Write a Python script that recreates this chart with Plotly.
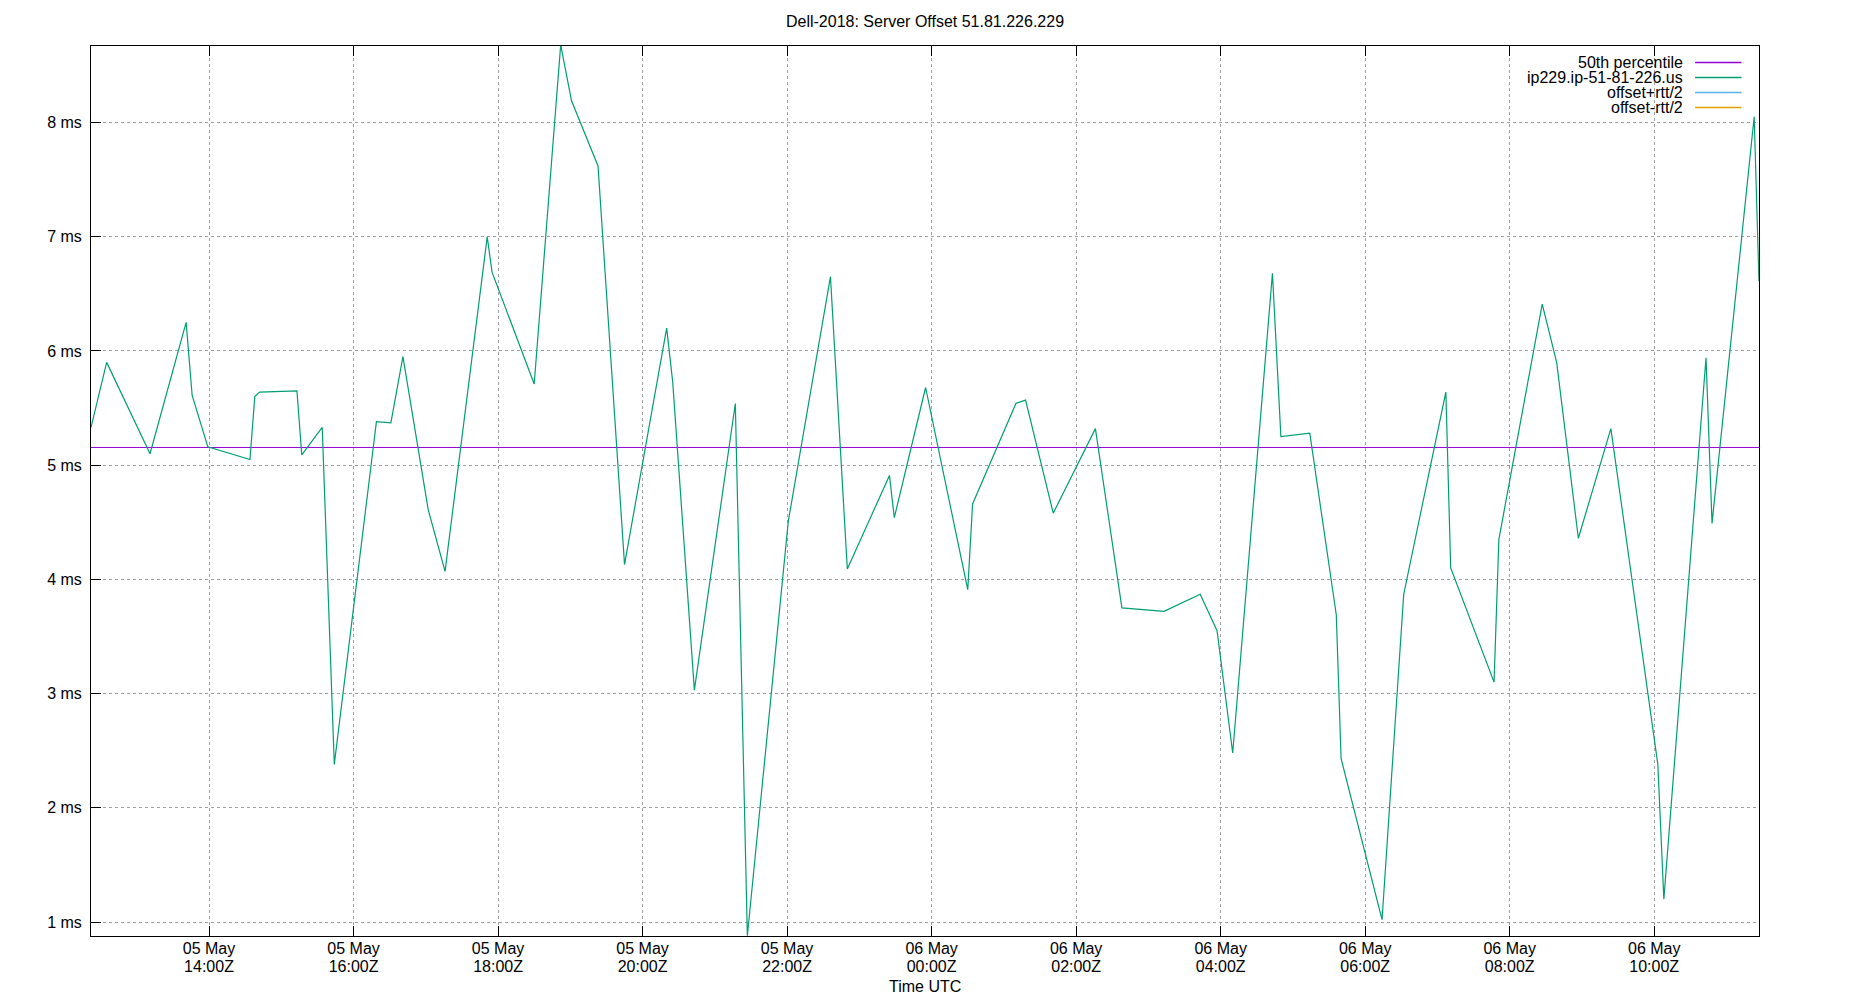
import plotly.graph_objects as go

# ---- data ----
times = [
    "2023-05-05 12:22", "2023-05-05 12:35", "2023-05-05 13:11", "2023-05-05 13:41",
    "2023-05-05 13:46", "2023-05-05 13:59", "2023-05-05 14:34", "2023-05-05 14:38",
    "2023-05-05 14:42", "2023-05-05 15:13", "2023-05-05 15:17", "2023-05-05 15:34",
    "2023-05-05 15:44", "2023-05-05 16:19", "2023-05-05 16:31", "2023-05-05 16:41",
    "2023-05-05 17:02", "2023-05-05 17:16", "2023-05-05 17:51", "2023-05-05 17:55",
    "2023-05-05 18:30", "2023-05-05 18:52", "2023-05-05 19:01", "2023-05-05 19:23",
    "2023-05-05 19:45", "2023-05-05 20:20", "2023-05-05 20:25", "2023-05-05 20:43",
    "2023-05-05 21:17", "2023-05-05 21:27", "2023-05-05 22:01", "2023-05-05 22:36",
    "2023-05-05 22:50", "2023-05-05 23:25", "2023-05-05 23:29", "2023-05-05 23:55",
    "2023-05-06 00:30", "2023-05-06 00:34", "2023-05-06 01:10", "2023-05-06 01:18",
    "2023-05-06 01:41", "2023-05-06 02:16", "2023-05-06 02:38", "2023-05-06 03:13",
    "2023-05-06 03:43", "2023-05-06 03:57", "2023-05-06 04:10", "2023-05-06 04:43",
    "2023-05-06 04:50", "2023-05-06 05:14", "2023-05-06 05:36", "2023-05-06 05:40",
    "2023-05-06 06:14", "2023-05-06 06:32", "2023-05-06 07:07", "2023-05-06 07:11",
    "2023-05-06 07:47", "2023-05-06 07:51", "2023-05-06 08:27", "2023-05-06 08:39",
    "2023-05-06 08:57", "2023-05-06 09:24", "2023-05-06 10:03", "2023-05-06 10:08",
    "2023-05-06 10:43", "2023-05-06 10:48", "2023-05-06 11:23", "2023-05-06 11:27",
]
offset_ms = [
    5.33, 5.90, 5.10, 6.25,
    5.61, 5.16, 5.05, 5.60,
    5.64, 5.65, 5.09, 5.33,
    2.38, 5.38, 5.37, 5.95,
    4.61, 4.07, 7.00, 6.69,
    5.71, 8.68, 8.19, 7.62,
    4.13, 6.20, 5.73, 3.03,
    5.54, 0.88, 4.51, 6.65,
    4.09, 4.91, 4.54, 5.68,
    3.91, 4.66, 5.54, 5.57,
    4.58, 5.32, 3.75, 3.72,
    3.87, 3.55, 2.48, 6.68,
    5.25, 5.28, 3.69, 2.43,
    1.02, 3.87, 5.64, 4.10,
    3.10, 4.35, 6.41, 5.90,
    4.36, 5.32, 2.38, 1.20,
    5.94, 4.49, 8.05, 6.61,
]
median_ms = 5.155

series_names = ["50th percentile", "ip229.ip-51-81-226.us", "offset+rtt/2", "offset-rtt/2"]
series_colors = ["#9400d3", "#009e73", "#56b4e9", "#e69f00"]

xtick_vals = [
    "2023-05-05 14:00", "2023-05-05 16:00", "2023-05-05 18:00", "2023-05-05 20:00",
    "2023-05-05 22:00", "2023-05-06 00:00", "2023-05-06 02:00", "2023-05-06 04:00",
    "2023-05-06 06:00", "2023-05-06 08:00", "2023-05-06 10:00",
]
xtick_dates = ["05 May"] * 5 + ["06 May"] * 6
xtick_times = ["14:00Z", "16:00Z", "18:00Z", "20:00Z", "22:00Z", "00:00Z",
               "02:00Z", "04:00Z", "06:00Z", "08:00Z", "10:00Z"]
ytick_vals = [1, 2, 3, 4, 5, 6, 7, 8]
ytick_text = ["%d ms" % v for v in ytick_vals]
x_title = "Time UTC"

FONT = "Liberation Sans"
W, H = 1850, 1000
ML, MR, MT, MB = 91, 91, 46, 64

fig = go.Figure()
fig.add_trace(go.Scatter(
    x=[times[0], times[-1]], y=[median_ms, median_ms], mode="lines",
    line=dict(color=series_colors[0], width=1), name=series_names[0],
    showlegend=False, hoverinfo="skip"))
fig.add_trace(go.Scatter(
    x=times, y=offset_ms, mode="lines",
    line=dict(color=series_colors[1], width=1.2), name=series_names[1],
    showlegend=False))
# invisible helper on overlay axis so xaxis2 is drawn
fig.add_trace(go.Scatter(
    x=[times[0], times[-1]], y=[median_ms, median_ms], mode="lines",
    line=dict(width=0), xaxis="x2", yaxis="y", showlegend=False,
    hoverinfo="skip", opacity=0))

grid = dict(showgrid=True, gridcolor="#a0a0a0", griddash="dot", gridwidth=1)

fig.update_layout(
    width=W, height=H,
    margin=dict(l=ML, r=MR, t=MT, b=MB, pad=0, autoexpand=False),
    paper_bgcolor="white", plot_bgcolor="white",
    font=dict(family=FONT, size=16, color="black"),
    title=dict(text="Dell-2018: Server Offset 51.81.226.229", x=0.5, xanchor="center",
               y=1 - 21 / H, yanchor="middle", yref="container",
               font=dict(family=FONT, size=16, color="black")),
    xaxis=dict(
        type="date", range=[times[0], times[-1]], automargin=False,
        tickmode="array", tickvals=xtick_vals, ticktext=xtick_dates,
        ticks="inside", ticklen=10, tickcolor="black", tickwidth=1,
        showline=True, linecolor="black", linewidth=1, mirror="ticks",
        zeroline=False, ticklabelstandoff=-2, **grid),
    xaxis2=dict(
        type="date", overlaying="x", matches="x", anchor="y", side="bottom",
        range=[times[0], times[-1]], automargin=False,
        tickmode="array", tickvals=xtick_vals, ticktext=xtick_times,
        ticks="", showline=False, showgrid=False, zeroline=False,
        ticklabelstandoff=19),
    yaxis=dict(
        range=[0.8775, 8.67], tickmode="array", tickvals=ytick_vals, ticktext=ytick_text,
        automargin=False,
        ticks="inside", ticklen=10, tickcolor="black", tickwidth=1,
        showline=True, linecolor="black", linewidth=1, mirror=True,
        zeroline=False, ticklabelstandoff=5, **grid),
)

# x-axis title placed just under the two-line tick labels
fig.add_annotation(text=x_title, xref="paper", yref="paper", x=0.5, y=-0.0573,
                   xanchor="center", yanchor="middle", showarrow=False,
                   font=dict(family=FONT, size=16, color="black"))

# gnuplot-style key: text right-aligned, sample line to the right
key_rows_y = [0.9815, 0.9645, 0.9478, 0.9308]
for name, color, yy in zip(series_names, series_colors, key_rows_y):
    fig.add_annotation(text=name, xref="paper", yref="paper", x=0.9555, y=yy,
                       xanchor="right", yanchor="middle", showarrow=False,
                       font=dict(family=FONT, size=16, color="black"))
    fig.add_shape(type="line", xref="paper", yref="paper", x0=0.9617, x1=0.9895,
                  y0=yy, y1=yy, line=dict(color=color, width=1.5))

fig.write_html("out.html",
               config={"displayModeBar": False},
               post_script="document.body.style.margin='0';"
                           "document.body.style.overflow='hidden';")
